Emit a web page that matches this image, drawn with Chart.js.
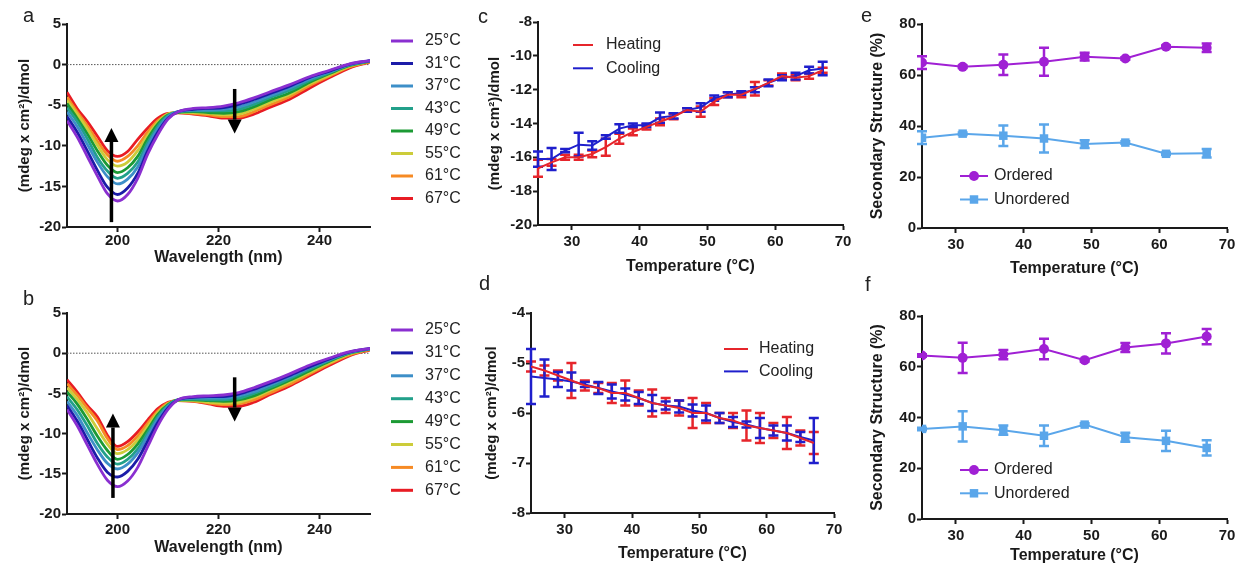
<!DOCTYPE html>
<html>
<head>
<meta charset="utf-8">
<script src="https://cdn.jsdelivr.net/npm/chart.js@4.4.1/dist/chart.umd.min.js"></script>
<style>
  body { margin: 0; background: #fff; width: 1239px; height: 571px; position: relative; overflow: hidden; font-family: "Liberation Sans", Arial, sans-serif; }
  canvas { position: absolute; }
  .tag { position: absolute; font-size: 20px; line-height: 20px; color: #222; }
</style>
</head>
<body>
<canvas id="chartA"></canvas>
<canvas id="chartB"></canvas>
<canvas id="chartC"></canvas>
<canvas id="chartD"></canvas>
<canvas id="chartE"></canvas>
<canvas id="chartF"></canvas>
<div class="tag" style="left:23px;top:5px">a</div>
<div class="tag" style="left:23px;top:288px">b</div>
<div class="tag" style="left:478px;top:6px">c</div>
<div class="tag" style="left:479px;top:273px">d</div>
<div class="tag" style="left:861px;top:5px">e</div>
<div class="tag" style="left:865px;top:274px">f</div>
<script>
// ---- spectra (panels a, b) ----
const wavelengths = [190, 192, 194, 196, 198, 200, 202, 204, 206, 208, 210, 212, 215, 218, 221, 224, 227, 230, 234, 238, 242, 246, 250];
const tempLabels = ['25°C', '31°C', '37°C', '43°C', '49°C', '55°C', '61°C', '67°C'];
const tempColors = ['#8a2fd0', '#1c1ca8', '#3d8fc8', '#22a08a', '#1c9a34', '#cccc3a', '#f68a24', '#e81c24'];

const a25 = [-6.9, -8.9, -11.3, -13.7, -15.9, -16.8, -16.0, -14.0, -11.0, -8.6, -6.7, -5.8, -5.4, -5.3, -5.1, -4.7, -4.1, -3.4, -2.5, -1.5, -0.7, 0.1, 0.5];
const a31 = [-6.4, -8.3, -10.6, -13.0, -15.1, -16.0, -15.2, -13.4, -10.6, -8.3, -6.6, -5.8, -5.5, -5.4, -5.3, -4.9, -4.3, -3.6, -2.7, -1.6, -0.8, 0.05, 0.5];
const a37 = [-5.8, -7.6, -9.8, -12.0, -13.8, -14.7, -14.1, -12.6, -10.0, -7.9, -6.4, -5.8, -5.6, -5.6, -5.5, -5.2, -4.6, -3.9, -2.9, -1.8, -0.9, 0.0, 0.45];
const a43 = [-5.3, -7.0, -9.1, -11.4, -13.1, -14.0, -13.4, -12.0, -9.6, -7.6, -6.3, -5.8, -5.7, -5.7, -5.7, -5.5, -4.9, -4.1, -3.2, -2.0, -1.0, -0.05, 0.45];
const a49 = [-4.8, -6.6, -8.5, -10.6, -12.4, -13.3, -12.7, -11.3, -9.1, -7.3, -6.2, -5.9, -5.8, -5.9, -6.0, -5.8, -5.2, -4.4, -3.5, -2.2, -1.1, -0.1, 0.4];
const a55 = [-4.4, -6.1, -7.9, -9.9, -11.7, -12.5, -12.0, -10.6, -8.7, -7.1, -6.1, -5.9, -5.9, -6.0, -6.2, -6.1, -5.5, -4.7, -3.7, -2.4, -1.3, -0.2, 0.4];
const a61 = [-4.0, -5.8, -7.5, -9.4, -11.1, -11.9, -11.3, -10.0, -8.3, -6.9, -6.1, -5.9, -6.0, -6.2, -6.4, -6.4, -5.8, -5.0, -4.0, -2.6, -1.4, -0.3, 0.35];
const a67 = [-3.4, -5.4, -7.0, -8.8, -10.6, -11.3, -10.7, -9.2, -7.8, -6.6, -6.0, -5.95, -6.1, -6.3, -6.6, -6.6, -6.1, -5.3, -4.3, -2.9, -1.6, -0.4, 0.3];

const b25 = [-7.0, -9.0, -11.4, -13.8, -15.8, -16.6, -15.9, -14.2, -11.6, -9.0, -7.0, -5.8, -5.4, -5.3, -5.2, -4.9, -4.3, -3.6, -2.6, -1.5, -0.6, 0.2, 0.6];
const b31 = [-6.5, -8.4, -10.7, -13.0, -14.8, -15.4, -14.7, -13.2, -10.9, -8.6, -6.8, -5.8, -5.5, -5.4, -5.4, -5.1, -4.5, -3.8, -2.8, -1.7, -0.7, 0.15, 0.6];
const b37 = [-6.0, -7.7, -9.9, -12.0, -13.7, -14.4, -13.8, -12.4, -10.3, -8.2, -6.6, -5.8, -5.6, -5.6, -5.6, -5.3, -4.8, -4.0, -3.0, -1.8, -0.8, 0.1, 0.55];
const b43 = [-5.4, -7.0, -9.0, -11.2, -12.9, -13.8, -13.2, -11.9, -9.9, -7.9, -6.5, -5.8, -5.7, -5.8, -5.8, -5.6, -5.0, -4.3, -3.2, -2.0, -0.9, 0.05, 0.55];
const b49 = [-4.8, -6.3, -8.2, -10.3, -12.1, -13.2, -12.6, -11.3, -9.5, -7.6, -6.4, -5.8, -5.8, -5.9, -6.0, -5.8, -5.3, -4.5, -3.4, -2.2, -1.0, 0.0, 0.5];
const b55 = [-4.3, -5.7, -7.4, -9.4, -11.3, -12.5, -12.0, -10.8, -9.1, -7.4, -6.3, -5.85, -5.9, -6.1, -6.2, -6.1, -5.5, -4.7, -3.6, -2.4, -1.2, -0.1, 0.5];
const b61 = [-3.8, -5.2, -6.8, -8.4, -10.6, -12.0, -11.5, -10.3, -8.7, -7.2, -6.2, -5.9, -5.95, -6.2, -6.4, -6.3, -5.8, -5.0, -3.9, -2.6, -1.3, -0.2, 0.45];
const b67 = [-3.3, -4.8, -6.5, -7.9, -10.2, -11.6, -11.0, -9.8, -8.3, -6.9, -6.1, -5.9, -6.0, -6.3, -6.6, -6.6, -6.1, -5.2, -4.1, -2.8, -1.5, -0.3, 0.4];

// arrows in data units (x = wavelength, from -> to = tail -> tip)
const arrowsA = [{ x: 198.8, from: -19.4, to: -7.8 }, { x: 223.2, from: -3.0, to: -8.5 }];
const arrowsB = [{ x: 199.1, from: -18.0, to: -7.5 }, { x: 223.2, from: -3.0, to: -8.5 }];

// ---- thermal scans (panels c, d) ----
const scanTemps = [25, 27, 29, 31, 33, 35, 37, 39, 41, 43, 45, 47, 49, 51, 53, 55, 57, 59, 61, 63, 65, 67];
const cHeat = [-16.65, -16.3, -16.0, -16.0, -15.8, -15.4, -14.9, -14.5, -14.2, -13.9, -13.6, -13.2, -13.3, -12.7, -12.3, -12.3, -11.95, -11.6, -11.2, -11.3, -11.2, -10.85];
const cHeatErr = [0.5, 0.2, 0.15, 0.15, 0.2, 0.5, 0.3, 0.2, 0.15, 0.2, 0.15, 0.1, 0.3, 0.2, 0.15, 0.15, 0.4, 0.15, 0.15, 0.15, 0.15, 0.15];
const cCool = [-16.1, -16.1, -15.6, -15.25, -15.3, -14.8, -14.3, -14.1, -14.1, -13.65, -13.55, -13.2, -13.05, -12.5, -12.3, -12.2, -12.0, -11.6, -11.3, -11.2, -10.85, -10.75];
const cCoolErr = [0.45, 0.65, 0.1, 0.7, 0.25, 0.1, 0.25, 0.1, 0.1, 0.3, 0.15, 0.1, 0.25, 0.15, 0.15, 0.1, 0.15, 0.2, 0.15, 0.2, 0.2, 0.4];
const dHeat = [-5.07, -5.15, -5.25, -5.35, -5.45, -5.5, -5.6, -5.6, -5.7, -5.8, -5.85, -5.9, -6.0, -6.0, -6.1, -6.15, -6.25, -6.3, -6.35, -6.4, -6.5, -6.6];
const dHeatErr = [0.1, 0.1, 0.1, 0.35, 0.1, 0.1, 0.2, 0.25, 0.15, 0.27, 0.15, 0.15, 0.3, 0.2, 0.1, 0.15, 0.3, 0.3, 0.15, 0.32, 0.15, 0.22];
const dCool = [-5.27, -5.3, -5.33, -5.37, -5.43, -5.5, -5.57, -5.63, -5.7, -5.8, -5.85, -5.87, -5.95, -6.0, -6.1, -6.18, -6.23, -6.3, -6.35, -6.4, -6.48, -6.55];
const dCoolErr = [0.55, 0.37, 0.15, 0.18, 0.05, 0.12, 0.14, 0.12, 0.12, 0.16, 0.08, 0.12, 0.12, 0.15, 0.1, 0.1, 0.06, 0.2, 0.1, 0.15, 0.1, 0.45];

// ---- secondary structure (panels e, f) ----
const ssTemps = [25, 31, 37, 43, 49, 55, 61, 67];
const eOrdered = [64.9, 63.2, 64.0, 65.2, 67.2, 66.5, 71.1, 70.7];
const eUnordered = [35.4, 37.0, 36.2, 35.1, 32.9, 33.5, 29.1, 29.3];
const eErr = [2.5, 0.5, 4.0, 5.5, 1.5, 0.5, 0.5, 1.7];
const fOrdered = [64.4, 63.5, 64.8, 67.0, 62.6, 67.6, 69.2, 71.9];
const fUnordered = [35.5, 36.5, 35.0, 32.8, 37.2, 32.2, 30.8, 28.0];
const fErr = [0.5, 6.0, 1.8, 4.0, 0.5, 1.8, 4.0, 3.0];

const FONT = '"Liberation Sans", Arial, sans-serif';
const INK = '#1a1a1a';
const RED = '#e6252b';
const BLUE = '#1f1fcc';
const PURPLE = '#a020d4';
const SKY = '#5aa6ea';

// puts the canvas on the page and works out paddings so the plot area lands where we want
function frame(id, box, area, yTitleX, yTitleSize, xTitleY, xPad) {
  const cv = document.getElementById(id);
  cv.style.left = box.x + 'px';
  cv.style.top = box.y + 'px';
  cv.width = box.w;
  cv.height = box.h;
  const yLeft = yTitleX - 0.6 * yTitleSize;
  const xBottom = xTitleY + 0.6 * 16;
  return {
    ctx: cv.getContext('2d'),
    padding: { left: yLeft - box.x, top: area.t - box.y, right: box.x + box.w - area.r, bottom: box.y + box.h - xBottom },
    yWidth: area.l - yLeft,
    xHeight: xBottom - area.b,
    yTitleSize: yTitleSize,
    xPad: xPad
  };
}

function makeScales(f, xr, yr) {
  const tickFont = { family: FONT, size: 15, weight: 'bold' };
  const grid = { drawOnChartArea: false, drawTicks: true, tickLength: 5, tickWidth: 2, tickColor: INK };
  const border = { color: INK, width: 2 };
  return {
    x: {
      type: 'linear', min: xr.min, max: xr.max,
      afterBuildTicks: s => { s.ticks = xr.ticks.map(v => ({ value: v })); },
      afterFit: s => { s.height = f.xHeight; },
      ticks: { autoSkip: false, maxRotation: 0, minRotation: 0, padding: f.xPad, color: INK, font: tickFont, callback: v => String(v) },
      grid: grid, border: border,
      title: { display: true, text: xr.title, color: INK, padding: 0, font: { family: FONT, size: 16, weight: 'bold' } }
    },
    y: {
      type: 'linear', min: yr.min, max: yr.max,
      afterBuildTicks: s => { s.ticks = yr.ticks.map(v => ({ value: v })); },
      afterFit: s => { s.width = f.yWidth; },
      ticks: { autoSkip: false, padding: 1, color: INK, font: tickFont, callback: v => String(v) },
      grid: grid, border: border,
      title: { display: true, text: yr.title, color: INK, padding: 0, font: { family: FONT, size: f.yTitleSize, weight: 'bold' } }
    }
  };
}

function errorBars(width, cap) {
  return {
    id: 'errorBars',
    beforeDatasetsDraw(chart) {
      const ctx = chart.ctx;
      const ys = chart.scales.y;
      chart.data.datasets.forEach((ds, i) => {
        if (!ds.errors) return;
        const meta = chart.getDatasetMeta(i);
        ctx.save();
        ctx.strokeStyle = ds.borderColor;
        ctx.lineWidth = width;
        meta.data.forEach((pt, j) => {
          const e = ds.errors[j];
          if (!e) return;
          const v = ds.data[j].y;
          const top = ys.getPixelForValue(v + e);
          const bot = ys.getPixelForValue(v - e);
          ctx.beginPath();
          ctx.moveTo(pt.x, top); ctx.lineTo(pt.x, bot);
          ctx.moveTo(pt.x - cap, top); ctx.lineTo(pt.x + cap, top);
          ctx.moveTo(pt.x - cap, bot); ctx.lineTo(pt.x + cap, bot);
          ctx.stroke();
        });
        ctx.restore();
      });
    }
  };
}

function arrows(list) {
  return {
    id: 'arrows',
    afterDatasetsDraw(chart) {
      const ctx = chart.ctx;
      ctx.save();
      ctx.strokeStyle = '#000';
      ctx.fillStyle = '#000';
      list.forEach(a => {
        const x = chart.scales.x.getPixelForValue(a.x);
        const y0 = chart.scales.y.getPixelForValue(a.from);
        const y1 = chart.scales.y.getPixelForValue(a.to);
        const dir = Math.sign(y1 - y0);
        const head = 14;
        ctx.lineWidth = 3.5;
        ctx.beginPath();
        ctx.moveTo(x, y0);
        ctx.lineTo(x, y1 - dir * head);
        ctx.stroke();
        ctx.beginPath();
        ctx.moveTo(x, y1);
        ctx.lineTo(x - 7, y1 - dir * head);
        ctx.lineTo(x + 7, y1 - dir * head);
        ctx.closePath();
        ctx.fill();
      });
      ctx.restore();
    }
  };
}

// legend drawn by hand so it can sit anywhere on the canvas
function sideLegend(o) {
  return {
    id: 'sideLegend',
    afterDraw(chart) {
      const ctx = chart.ctx;
      ctx.save();
      ctx.font = '16px ' + FONT;
      ctx.textBaseline = 'middle';
      let row = 0;
      chart.data.datasets.forEach(ds => {
        if (!ds.label) return;
        const y = o.y + row * o.dy;
        ctx.strokeStyle = ds.borderColor;
        ctx.lineWidth = o.lineWidth;
        ctx.beginPath();
        ctx.moveTo(o.x, y);
        ctx.lineTo(o.x + o.len, y);
        ctx.stroke();
        if (ds.pointRadius) {
          ctx.fillStyle = ds.borderColor;
          Chart.helpers.drawPoint(ctx, { pointStyle: ds.pointStyle, radius: ds.pointRadius, borderWidth: 0 }, o.x + o.len / 2, y);
        }
        ctx.fillStyle = '#222';
        ctx.fillText(ds.label, o.x + o.len + o.gap, y);
        row++;
      });
      ctx.restore();
    }
  };
}

function spectrumSets(series) {
  const sets = series.map((vals, i) => ({
    label: tempLabels[i],
    data: vals.map((v, k) => ({ x: wavelengths[k], y: v })),
    borderColor: tempColors[i],
    borderWidth: 2.8,
    pointRadius: 0,
    cubicInterpolationMode: 'monotone'
  }));
  sets.push({
    data: [{ x: 190, y: 0 }, { x: 250, y: 0 }],
    borderColor: '#555', borderWidth: 1, borderDash: [1.5, 1.5], pointRadius: 0
  });
  return sets;
}

function scanSet(label, vals, errs, color) {
  return {
    label: label,
    data: vals.map((v, k) => ({ x: scanTemps[k], y: v })),
    errors: errs,
    borderColor: color, borderWidth: 2, pointRadius: 0
  };
}

function ssSet(label, vals, errs, color, style, r) {
  return {
    label: label,
    data: vals.map((v, k) => ({ x: ssTemps[k], y: v })),
    errors: errs,
    borderColor: color, backgroundColor: color, borderWidth: 2,
    pointStyle: style, pointRadius: r, pointBorderWidth: 0
  };
}

function draw(f, datasets, xr, yr, plugins) {
  return new Chart(f.ctx, {
    type: 'line',
    data: { datasets: datasets },
    options: {
      responsive: false,
      animation: false,
      layout: { padding: f.padding },
      plugins: { legend: { display: false }, tooltip: { enabled: false } },
      scales: makeScales(f, xr, yr)
    },
    plugins: plugins
  });
}

const cdTitle = '(mdeg x cm²)/dmol';
const wlAxis = { min: 190, max: 250, ticks: [200, 220, 240], title: 'Wavelength (nm)' };
const tAxis = { min: 25, max: 70, ticks: [30, 40, 50, 60, 70], title: 'Temperature (°C)' };

// a
const fA = frame('chartA', { x: 0, y: 0, w: 480, h: 285 }, { l: 67, t: 24, r: 370, b: 227 }, 25, 15, 258, 0);
draw(fA, spectrumSets([a25, a31, a37, a43, a49, a55, a61, a67]), wlAxis,
  { min: -20, max: 5, ticks: [-20, -15, -10, -5, 0, 5], title: cdTitle },
  [arrows(arrowsA), sideLegend({ x: 391, y: 41, dy: 22.5, len: 22, gap: 12, lineWidth: 3 })]);

// b
const fB = frame('chartB', { x: 0, y: 285, w: 480, h: 286 }, { l: 67, t: 313, r: 370, b: 514 }, 25, 15, 548, 2);
draw(fB, spectrumSets([b25, b31, b37, b43, b49, b55, b61, b67]), wlAxis,
  { min: -20, max: 5, ticks: [-20, -15, -10, -5, 0, 5], title: cdTitle },
  [arrows(arrowsB), sideLegend({ x: 391, y: 45, dy: 22.9, len: 22, gap: 12, lineWidth: 3 })]);

// c
const fC = frame('chartC', { x: 480, y: 0, w: 380, h: 285 }, { l: 538, t: 22, r: 843, b: 225 }, 495, 15, 267, 3);
draw(fC, [scanSet('Heating', cHeat, cHeatErr, RED), scanSet('Cooling', cCool, cCoolErr, BLUE)], tAxis,
  { min: -20, max: -8, ticks: [-20, -18, -16, -14, -12, -10, -8], title: cdTitle },
  [errorBars(2.5, 5), sideLegend({ x: 93, y: 45, dy: 23.3, len: 20, gap: 13, lineWidth: 2 })]);

// d
const fD = frame('chartD', { x: 480, y: 285, w: 380, h: 286 }, { l: 531, t: 313, r: 834, b: 513 }, 492, 15, 554, 3);
draw(fD, [scanSet('Heating', dHeat, dHeatErr, RED), scanSet('Cooling', dCool, dCoolErr, BLUE)], tAxis,
  { min: -8, max: -4, ticks: [-8, -7, -6, -5, -4], title: cdTitle },
  [errorBars(2.5, 5), sideLegend({ x: 244, y: 64, dy: 22.4, len: 24, gap: 11, lineWidth: 2 })]);

// e
const fE = frame('chartE', { x: 860, y: 0, w: 379, h: 285 }, { l: 922, t: 24, r: 1227, b: 228 }, 878, 16, 269, 3);
draw(fE, [ssSet('Ordered', eOrdered, eErr, PURPLE, 'circle', 5), ssSet('Unordered', eUnordered, eErr, SKY, 'rect', 6)], tAxis,
  { min: 0, max: 80, ticks: [0, 20, 40, 60, 80], title: 'Secondary Structure (%)' },
  [errorBars(2.5, 5), sideLegend({ x: 100, y: 176, dy: 23.5, len: 28, gap: 6, lineWidth: 2 })]);

// f
const fF = frame('chartF', { x: 860, y: 285, w: 379, h: 286 }, { l: 922, t: 316, r: 1227, b: 519 }, 878, 16, 556, 3);
draw(fF, [ssSet('Ordered', fOrdered, fErr, PURPLE, 'circle', 5), ssSet('Unordered', fUnordered, fErr, SKY, 'rect', 6)], tAxis,
  { min: 0, max: 80, ticks: [0, 20, 40, 60, 80], title: 'Secondary Structure (%)' },
  [errorBars(2.5, 5), sideLegend({ x: 100, y: 185, dy: 23.3, len: 28, gap: 6, lineWidth: 2 })]);
</script>
</body>
</html>
